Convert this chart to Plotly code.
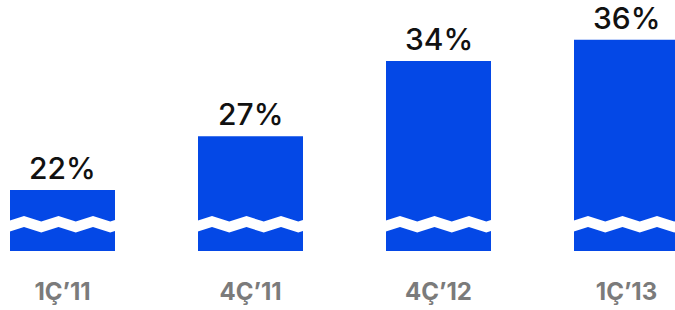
import plotly.graph_objects as go

# Data
categories = ["1Ç’11", "4Ç’11", "4Ç’12", "1Ç’13"]
values = [22, 27, 34, 36]
value_labels = ["22%", "27%", "34%", "36%"]

# Styling / geometry
W, H = 675, 310
M_B = 59
PLOT_H = H - M_B
PX_PER_X = 188.0
BAR_PX = 105.0
Y0 = 16.31
PX_PER_Y = 10.735
XMIN = -62.5 / PX_PER_X
XMAX = XMIN + W / PX_PER_X
YMAX = Y0 + PLOT_H / PX_PER_Y
BLUE = "#0448E6"

def ydata(py):
    return Y0 + (PLOT_H - py) / PX_PER_Y

xs = list(range(len(categories)))

fig = go.Figure()
fig.add_trace(go.Bar(
    x=xs, y=values, width=BAR_PX / PX_PER_X,
    marker=dict(color=BLUE, line=dict(width=0)),
    hoverinfo="skip",
))

# zigzag break shapes (decoration)
shapes = []
period = 34.5
first_trough = -3.25
top_peak, top_trough = 216.0, 221.5
thick = 11.0
for i in xs:
    left = i - BAR_PX / 2 / PX_PER_X
    pts = []
    k = 0
    off = first_trough
    while off <= BAR_PX + period:
        is_trough = (k % 2 == 0)
        pts.append((off, top_trough if is_trough else top_peak))
        off += period / 2
        k += 1
    top = [(left + o / PX_PER_X, ydata(p)) for o, p in pts]
    bot = [(left + o / PX_PER_X, ydata(p + thick)) for o, p in reversed(pts)]
    allp = top + bot
    path = "M " + " L ".join(f"{x:.5f},{y:.5f}" for x, y in allp) + " Z"
    shapes.append(dict(type="path", xref="x", yref="y", path=path,
                       fillcolor="white", line=dict(width=0), layer="above"))

annotations = []
for i, v, t in zip(xs, values, value_labels):
    annotations.append(dict(
        x=i, y=v, xref="x", yref="y", text=t, showarrow=False,
        yanchor="bottom", yshift=2,
        font=dict(family="Inter", size=30, color="#111111", weight=500),
    ))

fig.update_layout(
    width=W, height=H,
    margin=dict(l=0, r=0, t=0, b=M_B, pad=0),
    paper_bgcolor="white", plot_bgcolor="white",
    showlegend=False,
    shapes=shapes, annotations=annotations,
    xaxis=dict(range=[XMIN, XMAX], tickmode="array", tickvals=xs,
               ticktext=categories, showgrid=False, zeroline=False,
               showline=False, ticks="", ticklabelstandoff=24,
               tickfont=dict(family="Inter", size=24, color="#7b7b7b", weight=700),
               fixedrange=True),
    yaxis=dict(range=[Y0, YMAX], visible=False, fixedrange=True),
)

fig.write_html("out.html", config={"displayModeBar": False},
               post_script="document.body.style.margin='0';document.body.style.overflow='hidden';")
